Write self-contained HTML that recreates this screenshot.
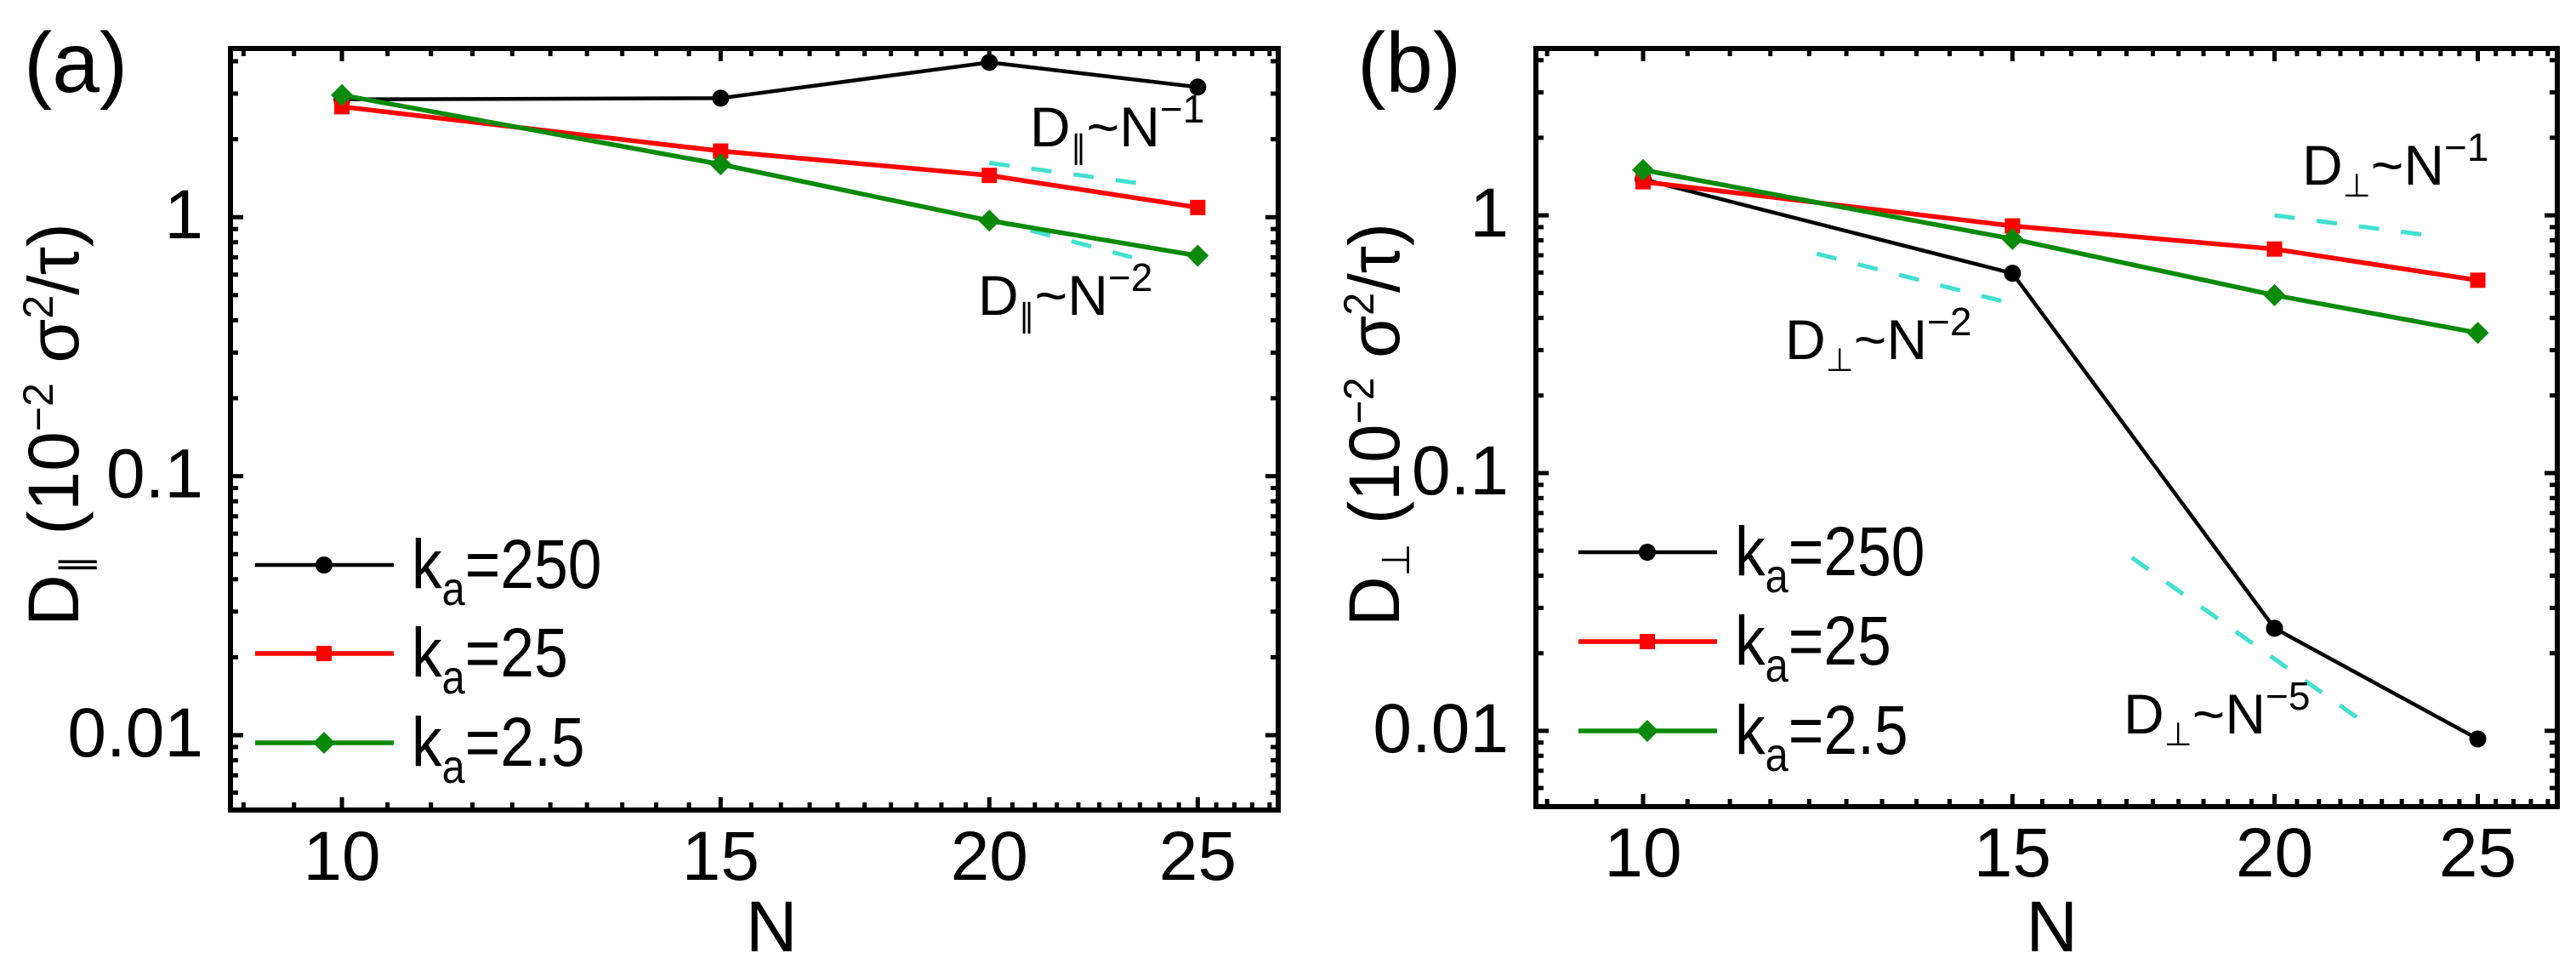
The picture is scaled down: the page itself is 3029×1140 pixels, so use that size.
<!DOCTYPE html>
<html><head><meta charset="utf-8">
<style>
html,body{margin:0;padding:0;background:#fff;}
svg{display:block;font-family:"Liberation Sans",Arial,sans-serif;}
</style></head>
<body>
<svg id="fig" width="3029" height="1140" viewBox="0 0 3029 1140" xmlns="http://www.w3.org/2000/svg"></svg>
<script>
// ---- data ----
const nValues = [10, 15, 20, 25];
const seriesNames = ["ka=250", "ka=25", "ka=2.5"];
const parA_k250 = [2.85, 2.88, 3.96, 3.18];
const parA_k25 = [2.67, 1.80, 1.45, 1.09];
const parA_k2_5 = [2.96, 1.60, 0.97, 0.71];
const perpB_k250 = [1.38, 0.596, 0.025, 0.0093];
const perpB_k25 = [1.35, 0.91, 0.74, 0.56];
const perpB_k2_5 = [1.50, 0.81, 0.49, 0.35];
const xTickLabels = ["10", "15", "20", "25"];
const yTickValues = [0.01, 0.1, 1];
const yTickLabels = ["0.01", "0.1", "1"];
// guide lines: [N start, D start, N end, D end]
const guideA1 = [20, 1.62, 23.5, 1.35];
const guideA2 = [20, 0.98, 23.3, 0.70];
const guideB1 = [20, 1.0, 23.6, 0.84];
const guideB2 = [12.1, 0.71, 14.9, 0.46];
const guideB3 = [17.1, 0.047, 22.2, 0.0104];

const NS = "http://www.w3.org/2000/svg";
const svg = document.getElementById("fig");
function mk(tag, attrs, parent) {
  const e = document.createElementNS(NS, tag);
  for (const k in attrs) e.setAttribute(k, attrs[k]);
  (parent || svg).appendChild(e);
  return e;
}
const L = Math.log10;

function panel(cfg) {
  const g = mk("g", {});
  
  
  const x = n => cfg.x0 + (L(n) - L(cfg.xd[0])) / (L(cfg.xd[1]) - L(cfg.xd[0])) * (cfg.x1 - cfg.x0);
  const y = v => cfg.y1 - (L(v) - L(cfg.yd[0])) / (L(cfg.yd[1]) - L(cfg.yd[0])) * (cfg.y1 - cfg.y0);

  // ticks
  const tg = mk("g", {stroke: "#000", "stroke-width": 5}, g);
  
  
  for (let n = 9; n <= 27.01; n += 0.5) {
    const major = nValues.includes(n);
    const len = major ? 15 : 9;
    const xx = x(n);
    if (xx < cfg.x0 + 3 || xx > cfg.x1 - 3) continue;
    mk("line", {x1: xx, x2: xx, y1: cfg.y1, y2: cfg.y1 - len}, tg);
    mk("line", {x1: xx, x2: xx, y1: cfg.y0, y2: cfg.y0 + len}, tg);
  }
  for (let d = -3; d <= 0; d++) {
    for (let m = 1; m <= 9; m++) {
      const v = m * Math.pow(10, d);
      const yy = y(v);
      if (yy < cfg.y0 + 3 || yy > cfg.y1 - 3) continue;
      const len = m === 1 ? 15 : 9;
      mk("line", {x1: cfg.x0, x2: cfg.x0 + len, y1: yy, y2: yy}, tg);
      mk("line", {x1: cfg.x1, x2: cfg.x1 - len, y1: yy, y2: yy}, tg);
    }
  }
  // frame
  const fr = mk("rect", {x: cfg.x0, y: cfg.y0, width: cfg.x1 - cfg.x0, height: cfg.y1 - cfg.y0, fill: "none", stroke: "#000", "stroke-width": 6}, g);
  
  

  // tick labels
  nValues.forEach((n, i) => {
    const t = mk("text", {x: x(n), y: cfg.y1 + 82, "font-size": 82, "text-anchor": "middle"}, g);
    t.textContent = xTickLabels[i];
    
    
  });
  yTickValues.forEach((v, i) => {
    const t = mk("text", {x: cfg.x0 - 32, y: y(v) + 25, "font-size": 82, "text-anchor": "end"}, g);
    t.textContent = yTickLabels[i];
    
    
  });

  // axis titles
  const xt = mk("text", {x: (x(10) + x(25)) / 2 + cfg.xtOff, y: 1118, "font-size": 84, "text-anchor": "middle"}, g);
  xt.textContent = "N";
  
  
  const yt = mk("text", {x: 0, y: 0, "font-size": 84}, g);
  
  
  yt.innerHTML = `D<tspan font-size="46" dy="12">${cfg.sym}</tspan><tspan dy="-12"> (10</tspan><tspan font-size="50" dy="-30">−2</tspan><tspan dy="30"> σ</tspan><tspan font-size="50" dy="-30">2</tspan><tspan dy="30">/τ)</tspan>`;
  const bb = yt.getBBox();
  const s = 474 / bb.width;
  // place: text runs from y=736 (start) upward to y=262
  yt.setAttribute("transform", `translate(${cfg.ytx},736) rotate(-90) scale(${s},1) translate(${-bb.x},0)`);

  // panel label
  const pl = mk("text", {x: cfg.lblx, y: 108, "font-size": 100}, g);
  pl.textContent = cfg.label;
  
  

  // guides
  cfg.guides.forEach(gd => {
    const l = mk("line", {x1: x(gd[0]), y1: y(gd[1]), x2: x(gd[2]), y2: y(gd[3]), stroke: "#40E0D0", "stroke-width": 5, "stroke-dasharray": "24,26"}, g);
    
    
  });

  // annotations
  cfg.notes.forEach(nt => {
    const t = mk("text", {x: nt[0], y: nt[1], "font-size": 66}, g);
    t.innerHTML = `D<tspan font-size="38" dy="14">${cfg.sym}</tspan><tspan dy="-14">~N</tspan><tspan font-size="46" dy="-28">−${nt[2]}</tspan>`;
    
    
  });

  // series
  const colors = ["#000", "#f00", "#0a8a0a"];
  const widths = [4.5, 5.5, 5.5];
  function marker(kind, cx, cy, col, parent) {
    let m;
    if (kind === 0) m = mk("circle", {cx, cy, r: 10, fill: col}, parent);
    else if (kind === 1) m = mk("rect", {x: cx - 9, y: cy - 9, width: 18, height: 18, fill: col}, parent);
    else m = mk("polygon", {points: `${cx},${cy - 13} ${cx + 13},${cy} ${cx},${cy + 13} ${cx - 13},${cy}`, fill: col}, parent);
    return m;
  }
  cfg.series.forEach((vals, si) => {
    const sg = mk("g", {}, g);
    
    
    const pts = nValues.map((n, i) => `${x(n)},${y(vals[i])}`).join(" ");
    mk("polyline", {points: pts, fill: "none", stroke: colors[si], "stroke-width": widths[si]}, sg);
    nValues.forEach((n, i) => {
      const m = marker(si, x(n), y(vals[i]), colors[si], sg);
      
      
    });
  });

  // legend
  const lg = mk("g", {}, g);
  
  
  const labelsTxt = ["250", "25", "2.5"];
  cfg.legRows.forEach((ry, i) => {
    const e = mk("g", {}, lg);
    
    
    mk("line", {x1: cfg.legX, x2: cfg.legX + 163, y1: ry, y2: ry, stroke: colors[i], "stroke-width": widths[i]}, e);
    marker(i, cfg.legX + 81, ry, colors[i], e);
    const t = mk("text", {x: 0, y: 0, "font-size": 82, transform: `translate(${cfg.legX + 184},${ry + 27}) scale(0.87,1)`}, e);
    t.innerHTML = `k<tspan font-size="56" dy="20">a</tspan><tspan dy="-20">=${labelsTxt[i]}</tspan>`;
  });
}

panel({
  name: "panel-a-parallel", label: "(a)", lblx: 28, sym: "∥",
  x0: 271, x1: 1503, y0: 57, y1: 952,
  xd: [8.875, 27.25], yd: [0.00514, 4.48],
  ytx: 92, xtOff: 2,
  series: [parA_k250, parA_k25, parA_k2_5],
  guides: [guideA1, guideA2],
  notes: [[1211, 172, "1"], [1150, 370, "2"]],
  legX: 300, legRows: [664, 768, 873]
});
panel({
  name: "panel-b-perpendicular", label: "(b)", lblx: 1596, sym: "⊥",
  x0: 1806, x1: 3007, y0: 57, y1: 948,
  xd: [8.89, 27.28], yd: [0.00508, 4.44],
  ytx: 1645, xtOff: -10,
  series: [perpB_k250, perpB_k25, perpB_k2_5],
  guides: [guideB1, guideB2, guideB3],
  notes: [[2707, 217, "1"], [2099, 422, "2"], [2497, 862, "5"]],
  legX: 1856, legRows: [649, 754, 859]
});
</script>
</body></html>
